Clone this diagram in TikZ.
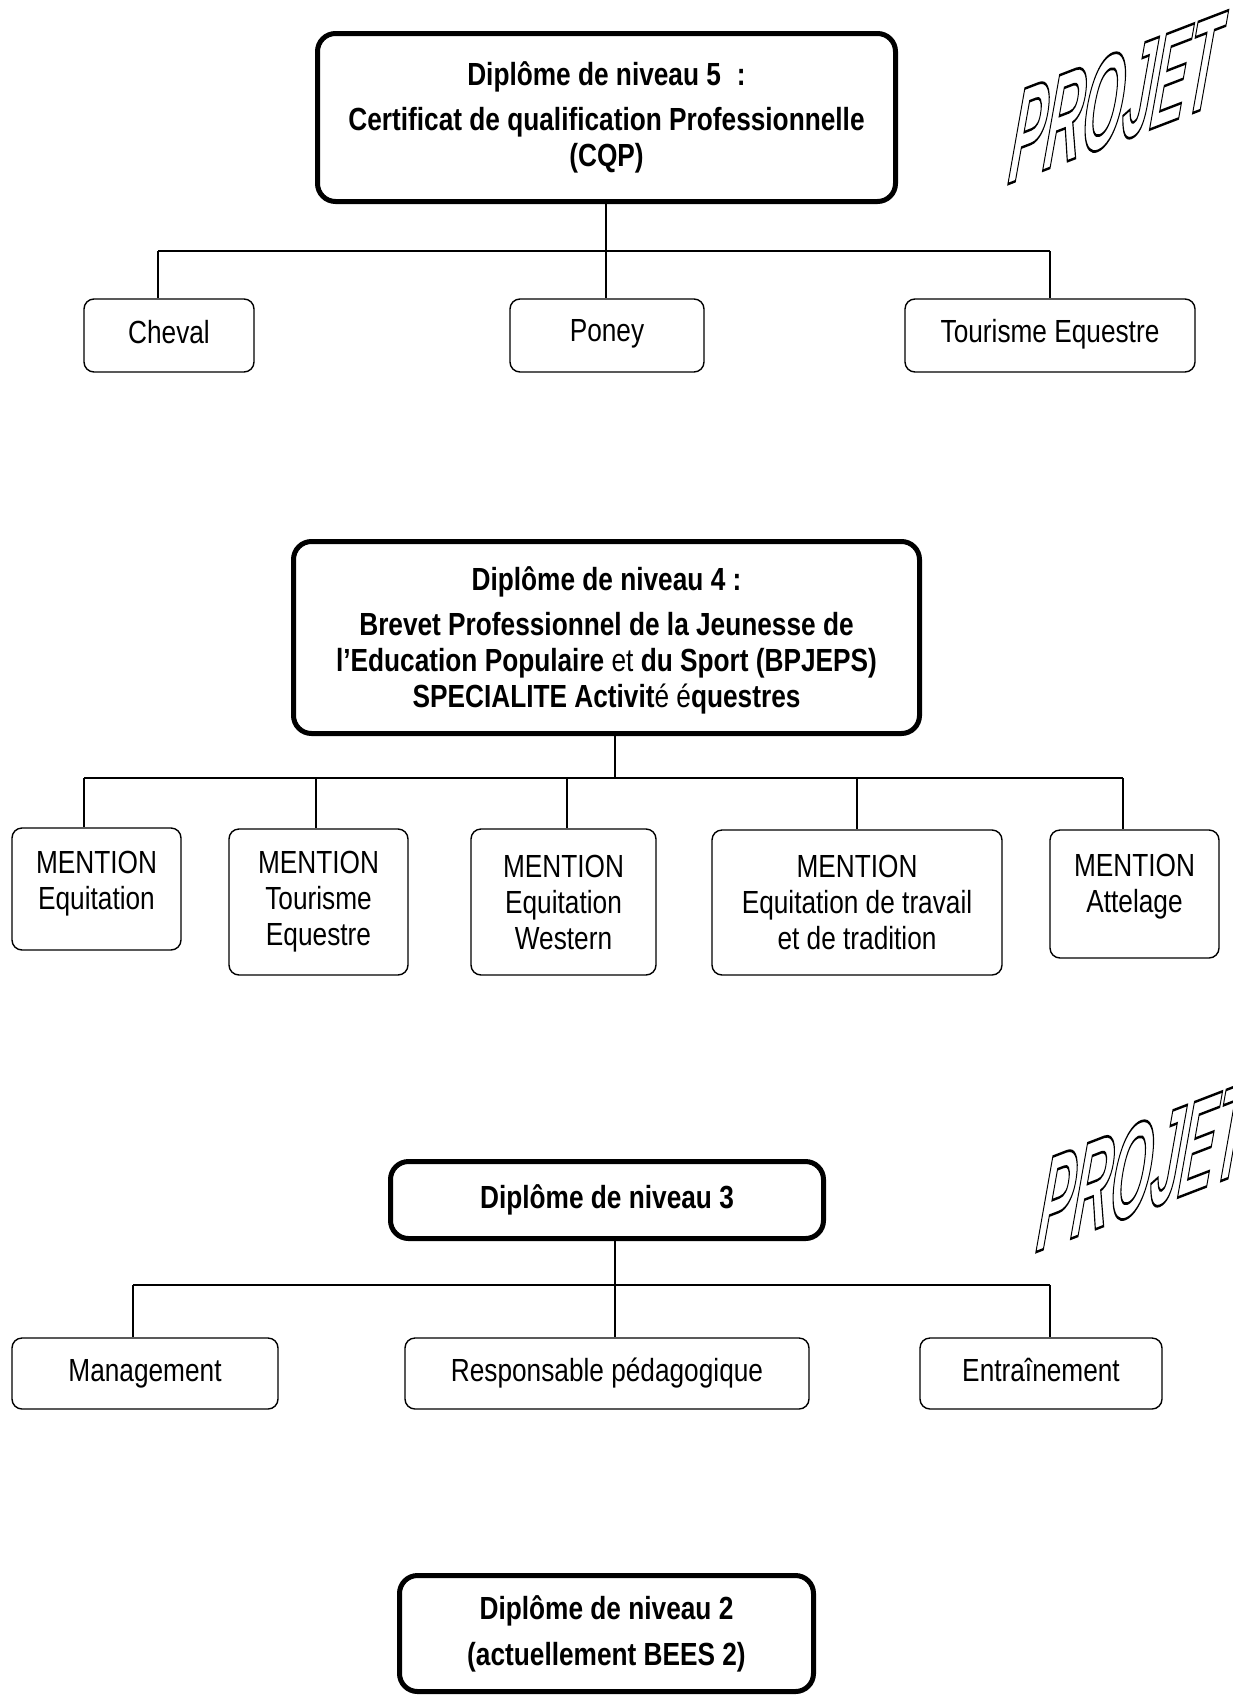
\documentclass[tikz,border=0pt]{standalone}
\usepackage{fontspec}
\setmainfont{Liberation Sans}[FakeStretch=0.82]
\newfontfamily\projfont{Liberation Sans}
\newcommand\outlinetext[1]{\special{pdf:literal direct 1 Tr 1.0 w}#1\special{pdf:literal direct 0 Tr}}
\begin{document}
\begin{tikzpicture}[x=1pt,y=1pt,
  big/.style={draw, line width=5pt, rounded corners=18pt, align=center, inner sep=0pt,
    font=\fontsize{32}{36}\selectfont\bfseries},
  small/.style={draw, line width=1.4pt, rounded corners=10pt, align=center, inner sep=0pt,
    font=\fontsize{32}{36}\selectfont},
  oneline/.style={text height=23pt, text depth=7pt},
  conn/.style={line width=1.4pt},
  proj/.style={transform shape, cm={1.04,0.40,0.29,2.7,(0,0)}, inner sep=0pt,
    font=\projfont\fontsize{50}{50}\selectfont\bfseries\itshape}]
\useasboundingbox (0,0) rectangle (1233,-1697);

% ---------- Level 5 ----------
\node[big, minimum width=578pt, minimum height=168pt] (b5) at (606.5,-117.5)
  {Diplôme de niveau 5\hspace{0.5em}:\\[9pt]Certificat de qualification Professionnelle\\(CQP)};
\node[small, oneline, minimum width=170pt, minimum height=73pt] (cheval) at (169,-335.5) {Cheval};
\node[small, oneline, text depth=11pt, minimum width=194pt, minimum height=73pt] (poney) at (607,-335.5) {Poney};
\node[small, oneline, text depth=9pt, minimum width=290pt, minimum height=73pt] (tour5) at (1050,-335.5) {Tourisme Equestre};
\coordinate (j5) at (606,-251);
\coordinate (l5) at (158,-251);
\coordinate (r5) at (1050,-251);
\draw[conn] (j5 |- b5.south) -- (j5);
\draw[conn] (l5) -- (r5);
\draw[conn] (l5) -- (l5 |- cheval.north);
\draw[conn] (j5) -- (j5 |- poney.north);
\draw[conn] (r5) -- (r5 |- tour5.north);

\begin{scope}[shift={(1116,-98)}]
  \node[proj] (proj1) at (0,0) {\outlinetext{PROJET}};
\end{scope}

% ---------- Level 4 ----------
\node[big, text depth=0pt, minimum width=626pt, minimum height=192pt] (b4) at (606.5,-637.5)
  {Diplôme de niveau 4 :\\[9pt]Brevet Professionnel de la Jeunesse de\\l’Education Populaire {\mdseries et} du Sport (BPJEPS)\\SPECIALITE Activit{\mdseries é} {\mdseries é}questres};
\node[small, text depth=17pt, minimum width=169pt, minimum height=122pt] (m1) at (96.5,-889) {MENTION\\Equitation};
\node[small, minimum width=179pt, minimum height=146pt] (m2) at (318.5,-902) {MENTION\\Tourisme\\Equestre};
\node[small, minimum width=185pt, minimum height=146pt] (m3) at (563.5,-902) {MENTION\\Equitation\\Western};
\node[small, minimum width=290pt, minimum height=145pt] (m4) at (857,-902.5) {MENTION\\Equitation de travail\\et de tradition};
\node[small, text depth=21pt, minimum width=169pt, minimum height=128pt] (m5) at (1134.5,-894) {MENTION\\Attelage};
\coordinate (j4) at (615,-778);
\coordinate (l4) at (84,-778);
\coordinate (r4) at (1123,-778);
\coordinate (d2) at (316,-778);
\coordinate (d3) at (567,-778);
\coordinate (d4) at (857,-778);
\draw[conn] (j4 |- b4.south) -- (j4);
\draw[conn] (l4) -- (r4);
\draw[conn] (l4) -- (l4 |- m1.north);
\draw[conn] (d2) -- (d2 |- m2.north);
\draw[conn] (d3) -- (d3 |- m3.north);
\draw[conn] (d4) -- (d4 |- m4.north);
\draw[conn] (r4) -- (r4 |- m5.north);

% ---------- Level 3 ----------
\node[big, minimum width=433pt, minimum height=77pt] (b3) at (607,-1200) {Diplôme de niveau 3};
\node[small, oneline, minimum width=266pt, minimum height=71pt] (mgmt) at (145,-1373.5) {Management};
\node[small, oneline, minimum width=404pt, minimum height=71pt] (resp) at (607,-1373.5) {Responsable pédagogique};
\node[small, oneline, minimum width=242pt, minimum height=71pt] (entr) at (1041,-1373.5) {Entraînement};
\coordinate (j3) at (615,-1285);
\coordinate (l3) at (133,-1285);
\coordinate (r3) at (1050,-1285);
\draw[conn] (j3 |- b3.south) -- (j3);
\draw[conn] (l3) -- (r3);
\draw[conn] (l3) -- (l3 |- mgmt.north);
\draw[conn] (j3) -- (j3 |- resp.north);
\draw[conn] (r3) -- (r3 |- entr.north);

\begin{scope}[shift={(1144,-1166)}]
  \node[proj] (proj2) at (0,0) {\outlinetext{PROJET}};
\end{scope}

% ---------- Level 2 ----------
\node[big, minimum width=414pt, minimum height=116pt] (b2) at (606.5,-1633.5)
  {Diplôme de niveau 2\\[10pt](actuellement BEES 2)};
\end{tikzpicture}
\end{document}
